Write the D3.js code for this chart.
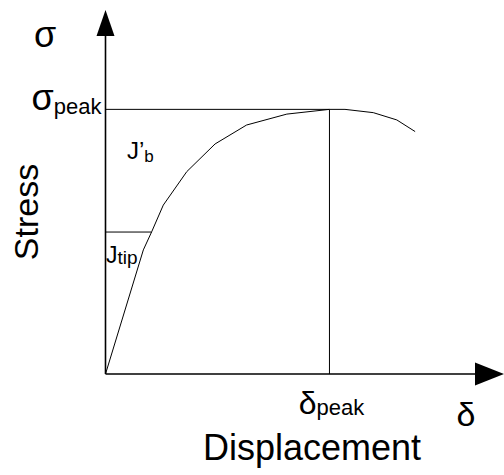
<!DOCTYPE html>
<html>
<head>
<meta charset="utf-8">
<script src="https://cdn.jsdelivr.net/npm/d3@7"></script>
<style>
  html, body { margin: 0; padding: 0; background: #fff; }
  svg { display: block; font-family: "Liberation Sans", Arial, sans-serif; }
</style>
</head>
<body>
<svg id="chart" width="504" height="475"></svg>
<script>
// Stress–displacement curve (arbitrary units)
const displacement = [0, 9.5, 11.6, 14.5, 20.4, 27.5, 35.4, 45.5, 56.2, 60.1, 67.2, 73.1, 77.7];
const stress       = [0, 34.1, 39.1, 46.4, 55.6, 63.2, 68.4, 71.4, 72.7, 72.7, 71.8, 69.8, 66.6];

// Characteristic points
const peakDisp = [56.2];
const peakStress = [72.7];
const tipStress = [39.0];
const tipDisp = [11.6];

const svg = d3.select("#chart");

const x = d3.scaleLinear().domain([0, 100]).range([105.5, 504]);
const y = d3.scaleLinear().domain([0, 100]).range([374, 10]);

const ink = "#000";

// Reference lines: σ_peak level and δ_peak drop
svg.append("line")
  .attr("x1", x(0)).attr("x2", x(peakDisp[0]))
  .attr("y1", y(peakStress[0])).attr("y2", y(peakStress[0]))
  .attr("stroke", ink).attr("stroke-width", 1);
svg.append("line")
  .attr("x1", x(peakDisp[0])).attr("x2", x(peakDisp[0]))
  .attr("y1", y(peakStress[0])).attr("y2", y(0))
  .attr("stroke", ink).attr("stroke-width", 1);
// J_tip level
svg.append("line")
  .attr("x1", x(0)).attr("x2", x(tipDisp[0]))
  .attr("y1", y(tipStress[0])).attr("y2", y(tipStress[0]))
  .attr("stroke", ink).attr("stroke-width", 1);

// Curve
const pts = displacement.map((d, i) => [d, stress[i]]);
svg.append("path")
  .datum(pts)
  .attr("fill", "none")
  .attr("stroke", ink)
  .attr("stroke-width", 1)
  .attr("d", d3.line().x(d => x(d[0])).y(d => y(d[1])));

// Axes with arrow heads
svg.append("line")
  .attr("x1", x(0)).attr("x2", x(0))
  .attr("y1", y(0)).attr("y2", y(100) + 20)
  .attr("stroke", ink).attr("stroke-width", 1.6);
svg.append("line")
  .attr("x1", x(0)).attr("x2", x(100) - 20)
  .attr("y1", y(0)).attr("y2", y(0))
  .attr("stroke", ink).attr("stroke-width", 1.6);

svg.append("path")
  .attr("d", `M${x(0)},${y(100)} L${x(0) - 9},${y(100) + 26} L${x(0) + 9},${y(100) + 26} Z`)
  .attr("fill", ink);
svg.append("path")
  .attr("d", `M${x(100)},${y(0)} L${x(100) - 29},${y(0) - 11.5} L${x(100) - 29},${y(0) + 11.5} Z`)
  .attr("fill", ink);

// Axis symbols
svg.append("text").attr("x", 45).attr("y", 47)
  .attr("text-anchor", "middle").attr("font-size", 36).text("σ");
svg.append("text").attr("x", 466).attr("y", 426)
  .attr("text-anchor", "middle").attr("font-size", 34).text("δ");

// Axis titles
svg.append("text").attr("x", 312).attr("y", 460)
  .attr("text-anchor", "middle").attr("font-size", 36).text("Displacement");
svg.append("text")
  .attr("transform", "translate(38,212) rotate(-90)")
  .attr("text-anchor", "middle").attr("font-size", 34).text("Stress");

// σ_peak label
const sp = svg.append("text")
  .attr("x", x(0) - 4).attr("y", y(peakStress[0]) + 1)
  .attr("text-anchor", "end").attr("font-size", 36);
sp.append("tspan").text("σ");
sp.append("tspan").attr("font-size", 22).attr("dy", 4).text("peak");

// δ_peak label
const dp = svg.append("text")
  .attr("x", x(peakDisp[0]) + 2).attr("y", 414)
  .attr("text-anchor", "middle").attr("font-size", 32);
dp.append("tspan").text("δ");
dp.append("tspan").attr("font-size", 22).attr("dy", 1).text("peak");

// J'_b label
const jb = svg.append("text").attr("x", 127).attr("y", 159).attr("font-size", 24);
jb.append("tspan").text("J’");
jb.append("tspan").attr("font-size", 17).attr("dy", 3).text("b");

// J_tip label
const jt = svg.append("text").attr("x", 106).attr("y", 263).attr("font-size", 23);
jt.append("tspan").text("J");
jt.append("tspan").attr("font-size", 19).attr("dy", 1).text("tip");
</script>
</body>
</html>
